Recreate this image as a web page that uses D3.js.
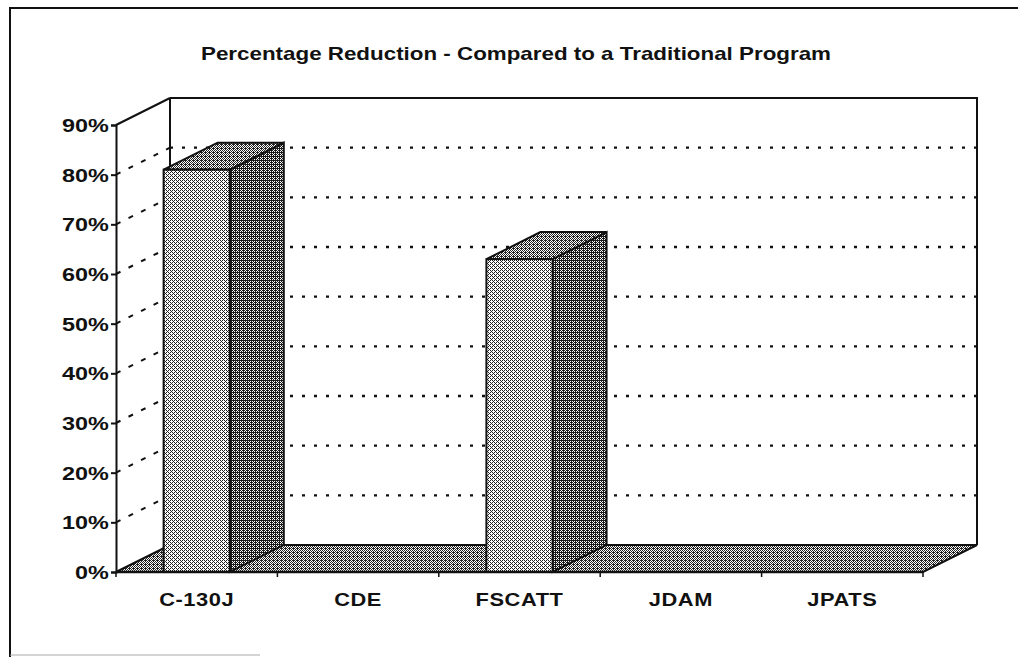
<!DOCTYPE html>
<html>
<head>
<meta charset="utf-8">
<script src="https://cdn.jsdelivr.net/npm/d3@7"></script>
<style>
  body { margin: 0; background: #fff; }
  text { font-family: "Liberation Sans", Arial, sans-serif; font-weight: bold; fill: #111; }
</style>
</head>
<body>
<script>
// chart data
var categories = ["C-130J", "CDE", "FSCATT", "JDAM", "JPATS"];
var reduction = [0.81, 0, 0.63, 0, 0];
var yTicks = [0, 0.1, 0.2, 0.3, 0.4, 0.5, 0.6, 0.7, 0.8, 0.9];
var title = "Percentage Reduction - Compared to a Traditional Program";

var width = 1018, height = 657;
var dx = 54, dy = -27; // 3d depth offset

var svg = d3.select("body").append("svg")
  .attr("width", width)
  .attr("height", height);

// ordered dither patterns to look like the scanned halftone
var bayer = [[0, 8, 2, 10], [12, 4, 14, 6], [3, 11, 1, 9], [15, 7, 13, 5]];
var defs = svg.append("defs");
function dither(id, level, ink) {
  var p = defs.append("pattern")
    .attr("id", id)
    .attr("patternUnits", "userSpaceOnUse")
    .attr("width", 4).attr("height", 4);
  p.append("rect").attr("width", 4).attr("height", 4).attr("fill", "#fff");
  for (var r = 0; r < 4; r++) {
    for (var c = 0; c < 4; c++) {
      if (bayer[r][c] < level) {
        p.append("rect").attr("x", c).attr("y", r)
          .attr("width", 1).attr("height", 1).attr("fill", ink)
          .attr("shape-rendering", "crispEdges");
      }
    }
  }
}
dither("light", 6, "#222");
dither("dark", 11, "#1a1a1a");
dither("top", 9, "#222");
dither("floor", 9, "#222");

var x = d3.scaleBand().domain(categories).range([116, 923]).paddingInner(0.59).paddingOuter(0.295);
var xCat = d3.scaleBand().domain(categories).range([116, 923]);
var y = d3.scaleLinear().domain([0, 0.9]).range([572, 125]);

var x0 = xCat.range()[0], x1 = xCat.range()[1];
var yTop = y(0.9), yBot = y(0);

// back wall
svg.append("path")
  .attr("d", "M" + (x0 + dx) + "," + (yTop + dy) + "H" + (x1 + dx) + "V" + (yBot + dy))
  .attr("fill", "none").attr("stroke", "#111").attr("stroke-width", 2);
svg.append("line")
  .attr("x1", x0 + dx).attr("x2", x0 + dx)
  .attr("y1", yTop + dy).attr("y2", yBot + dy)
  .attr("stroke", "#111").attr("stroke-width", 2);

// gridlines on back wall
svg.selectAll(".grid")
  .data(yTicks.filter(function(d) { return d > 0 && d < 0.9; }))
  .enter().append("line")
  .attr("x1", x0 + dx).attr("x2", x1 + dx)
  .attr("y1", function(d) { return y(d) + dy; })
  .attr("y2", function(d) { return y(d) + dy; })
  .attr("stroke", "#111").attr("stroke-width", 2.4)
  .attr("stroke-dasharray", "3,9");

// side wall lines
svg.selectAll(".wall")
  .data(yTicks.filter(function(d) { return d > 0; }))
  .enter().append("line")
  .attr("x1", x0).attr("x2", x0 + dx)
  .attr("y1", function(d) { return y(d); })
  .attr("y2", function(d) { return y(d) + dy; })
  .attr("stroke", "#111").attr("stroke-width", 2)
  .attr("stroke-dasharray", function(d) { return d === 0.9 ? null : "5,9"; });

// floor
svg.append("path")
  .attr("d", "M" + x0 + "," + yBot + "H" + x1 + "L" + (x1 + dx) + "," + (yBot + dy) +
    "H" + (x0 + dx) + "Z")
  .attr("fill", "url(#floor)").attr("stroke", "#111").attr("stroke-width", 2);

// bars
var bars = svg.selectAll(".bar")
  .data(categories.map(function(c, i) { return { cat: c, v: reduction[i] }; })
    .filter(function(d) { return d.v > 0; }))
  .enter().append("g");

bars.append("path") // side
  .attr("d", function(d) {
    var bx = x(d.cat) + x.bandwidth(), t = y(d.v);
    return "M" + bx + "," + yBot + "V" + t + "l" + dx + "," + dy + "V" + (yBot + dy) + "Z";
  })
  .attr("fill", "url(#dark)").attr("stroke", "#111").attr("stroke-width", 2);
bars.append("path") // top
  .attr("d", function(d) {
    var bx = x(d.cat), t = y(d.v);
    return "M" + bx + "," + t + "h" + x.bandwidth() + "l" + dx + "," + dy + "h" + (-x.bandwidth()) + "Z";
  })
  .attr("fill", "url(#top)").attr("stroke", "#111").attr("stroke-width", 2);
bars.append("rect") // front
  .attr("x", function(d) { return x(d.cat); })
  .attr("y", function(d) { return y(d.v); })
  .attr("width", x.bandwidth())
  .attr("height", function(d) { return yBot - y(d.v); })
  .attr("fill", "url(#light)").attr("stroke", "#111").attr("stroke-width", 2);

// value axis
var yAxis = d3.axisLeft(y).tickValues(yTicks).tickSize(5).tickFormat(d3.format(".0%"));
var ya = svg.append("g").attr("transform", "translate(" + x0 + ",0)").call(yAxis);
ya.select(".domain").attr("stroke", "#111").attr("stroke-width", 2);
ya.selectAll(".tick line").attr("stroke", "#111").attr("stroke-width", 2);
ya.selectAll(".tick text")
  .attr("x", -5.5).attr("dy", "0.36em")
  .attr("transform", "scale(1.3,1)")
  .style("font-size", "18px").style("font-family", "Liberation Sans, Arial, sans-serif")
  .style("font-weight", "bold").attr("fill", "#111");

// category axis
var xa = svg.append("g").attr("transform", "translate(0," + yBot + ")");
xa.append("line").attr("x1", x0).attr("x2", x1).attr("stroke", "#111").attr("stroke-width", 2.5);
xa.selectAll(".ctick")
  .data(categories.concat(["end"]))
  .enter().append("line")
  .attr("x1", function(d, i) { return x0 + i * xCat.step(); })
  .attr("x2", function(d, i) { return x0 + i * xCat.step(); })
  .attr("y1", 0).attr("y2", 5)
  .attr("stroke", "#111").attr("stroke-width", 1.5);
xa.selectAll(".clabel")
  .data(categories)
  .enter().append("text")
  .attr("transform", function(d) {
    return "translate(" + (xCat(d) + xCat.bandwidth() / 2) + ",34) scale(1.15,1)";
  })
  .attr("text-anchor", "middle")
  .style("font-size", "19px").style("letter-spacing", "0.5px")
  .text(function(d) { return d; });

// title
svg.append("text")
  .attr("x", 516).attr("y", 60)
  .attr("text-anchor", "middle")
  .attr("textLength", 630).attr("lengthAdjust", "spacingAndGlyphs")
  .style("font-size", "19px")
  .text(title);

// outer frame
svg.append("path")
  .attr("d", "M10," + height + "V8H" + width)
  .attr("fill", "none").attr("stroke", "#111").attr("stroke-width", 2);
svg.append("line")
  .attr("x1", 10).attr("x2", 260).attr("y1", 655).attr("y2", 655)
  .attr("stroke", "#aaa").attr("stroke-width", 1);
</script>
</body>
</html>
